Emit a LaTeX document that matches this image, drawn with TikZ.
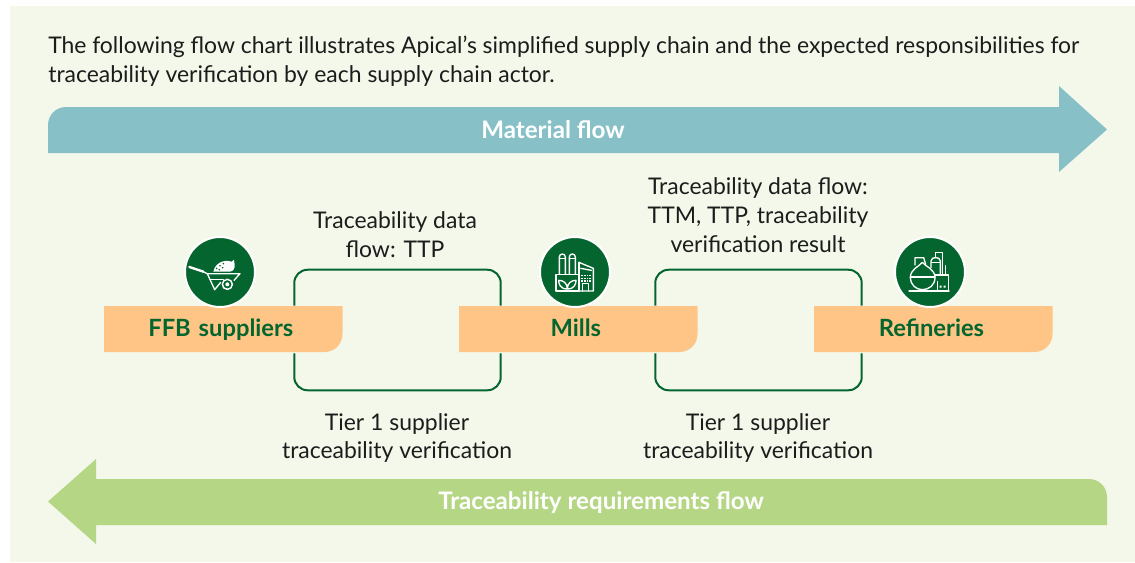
\documentclass[tikz,border=0pt]{standalone}
\usepackage{fontspec}
\usetikzlibrary{calc}
\setmainfont{Lato}
\definecolor{panel}{HTML}{F4F8EA}
\definecolor{tealflow}{HTML}{88C0C8}
\definecolor{greenflow}{HTML}{B5D785}
\definecolor{barorange}{HTML}{FFC586}
\definecolor{darkgreen}{HTML}{04652F}
\definecolor{bodytext}{HTML}{1C1C1C}
\tikzset{
  bodylabel/.style={font=\fontsize{17.2}{21.7}\selectfont, text=bodytext, align=center, inner sep=0pt},
  flowlabel/.style={font=\fontsize{18.1}{20}\selectfont\bfseries, text=white, inner sep=0pt},
  actor/.style={font=\fontsize{17.8}{20}\selectfont\bfseries, text=darkgreen, inner sep=0pt, minimum width=179.25pt, minimum height=34.5pt},
  actortext/.style={actor, text width=179.25pt, align=center, text height=13pt, text depth=3.6pt},
  linkline/.style={draw=darkgreen, line width=1.5pt, rounded corners=10pt},
  iconbadge/.style={circle, fill=darkgreen, draw=white, line width=1.5pt, minimum size=52.5pt, inner sep=0pt},
  iconline/.style={draw=white, line width=1pt, line join=round, line cap=round},
}
\newcommand{\orangebar}[1]{%
  \fill[barorange] (#1,306) -- ({#1+238.5},306) -- ({#1+238.5},334)
    .. controls ({#1+238.5},344) and ({#1+230.5},352) .. ({#1+220.5},352) -- (#1,352) -- cycle;}
\begin{document}
\begin{tikzpicture}[x=.75pt,y=-.75pt]
\useasboundingbox (0,0) rectangle (1135,562);
\fill[white] (0,0) rectangle (1135,562);
\fill[panel] (10,6) rectangle (1135,562);

% intro
\node[font=\fontsize{17.2}{21.7}\selectfont, text=bodytext, anchor=north west, inner sep=0pt, text width=773.25pt, align=justify] (intro) at (48,35.5)
  {\hbox to 773.25pt{The following flow chart illustrates Apical’s simplified supply chain and the expected responsibilities for}\par
   traceability verification by each supply chain actor.};

% big arrows
\fill[tealflow] (48,153) -- (48,125) .. controls (48,115) and (56,107) .. (66,107)
  -- (1059,107) -- (1059,86) -- (1107,129.5) -- (1059,172) -- (1059,153) -- cycle;
\node[flowlabel] (material) at (553,129.5) {Material flow};
\fill[greenflow] (1107,525) -- (1107,497) .. controls (1107,487) and (1099,479) .. (1089,479)
  -- (96,479) -- (96,459) -- (48,501.5) -- (96,544) -- (96,525) -- cycle;
\node[flowlabel] (requirements) at (601,502.5) {Traceability requirements flow};

% actors
\node[actor] (ffb) at (223.5,329) {};
\node[actor] (mills) at (578.5,329) {};
\node[actor] (ref) at (933.5,329) {};

% links
\draw[linkline] ([xshift=-36.75pt]ffb.north east) -- ++(0,-36) -| ([xshift=31.5pt]mills.north west);
\draw[linkline] ([xshift=-36.75pt,yshift=-.75pt]ffb.south east) -- ++(0,37) -| ([xshift=31.5pt,yshift=-.75pt]mills.south west);
\draw[linkline] ([xshift=-32.25pt]mills.north east) -- ++(0,-36) -| ([xshift=36pt]ref.north west);
\draw[linkline] ([xshift=-32.25pt,yshift=-.75pt]mills.south east) -- ++(0,37) -| ([xshift=36pt,yshift=-.75pt]ref.south west);

\orangebar{104}
\orangebar{459}
\orangebar{814}
\node[actortext] at ([yshift=-1.1pt]ffb) {\hspace*{-4pt}FFB suppliers};
\node[actortext] at ([yshift=-1.1pt]mills) {\hspace*{-4pt}Mills};
\node[actortext] at ([yshift=-1.1pt]ref) {\hspace*{-3pt}Refineries};

% labels
\node[bodylabel] (l1) at (395,234.5) {Traceability data\\flow: TTP};
\node[bodylabel] (l2) at (758,215) {Traceability data flow:\\TTM, TTP, traceability\\verification result};
\node[bodylabel] (l3) at (397,438) {Tier 1 supplier\\traceability verification};
\node[bodylabel] (l4) at (758,438) {Tier 1 supplier\\traceability verification};

% badges
\node[iconbadge] (b1) at (220,272) {};
\node[iconbadge] (b2) at (575,272) {};
\node[iconbadge] (b3) at (930,272) {};

% wheelbarrow
\begin{scope}[shift={(170,225)},x=.25pt,y=-.25pt]
  \draw[iconline,line width=1.8pt] (58,126) -- (100,140);
  \draw[iconline] (100,140) -- (112,146) -- (210,146) -- (192,166);
  \draw[iconline] (112,146) -- (134,194) -- (152,172);
  \draw[iconline] (120,164) -- (160,164);
  \draw[iconline,fill=darkgreen,line width=1.1pt] (172,178) circle (15);
  \fill[white] (172,178) circle (6);
  \fill[white] (130,140) .. controls (135,115) and (160,102) .. (185,110) -- (192,104) -- (194,120) .. controls (195,130) and (190,138) .. (180,140) -- cycle;
  \foreach \p in {(140,130),(150,122),(160,116),(148,134),(158,128)}
    \fill[darkgreen] \p circle (2.6);
\end{scope}

% mill
\begin{scope}[shift={(530,225)},x=.25pt,y=-.25pt]
  \draw[iconline] (88,148) -- (88,96) .. controls (88,84) and (106,84) .. (106,96) -- (106,148);
  \draw[iconline] (118,148) -- (118,96) .. controls (118,84) and (136,84) .. (136,96) -- (136,148);
  \draw[iconline] (88,100) -- (106,100) (118,100) -- (136,100);
  \draw[iconline] (78,148) rectangle (147,198);
  \draw[iconline] (147,112) -- (190,130) -- (190,198) -- (147,198);
  \draw[iconline] (147,112) -- (147,148);
  \draw[iconline] (152,130) -- (184,136);
  \foreach \xx in {154,162,170,178} \foreach \yy in {150,158,166}
    \fill[white] (\xx,\yy) rectangle ++(5,4);
  \draw[iconline] (158,198) -- (158,176) -- (176,176) -- (176,198);
  \draw[iconline] (112,192) .. controls (90,192) and (86,176) .. (86,166) .. controls (100,166) and (112,174) .. (112,192)
     .. controls (112,174) and (124,166) .. (138,166) .. controls (138,176) and (134,192) .. (112,192);
\end{scope}

% refinery
\begin{scope}[shift={(885,225)},x=.25pt,y=-.25pt]
  \draw[iconline] (90,120) -- (90,98) -- (116,98) -- (122,118);
  \draw[iconline] (138,128) -- (138,108) .. controls (138,94) and (166,94) .. (166,108) -- (166,150);
  \draw[iconline] (140,112) -- (164,112);
  \draw[iconline] (152,98) -- (152,82) -- (172,82) -- (172,150);
  \draw[iconline] (182,122) -- (182,148);
  \draw[iconline] (112,112) .. controls (122,125) and (150,132) .. (150,158) .. controls (150,180) and (132,194) .. (112,194)
     .. controls (92,194) and (76,178) .. (76,158) .. controls (76,132) and (102,125) .. (112,112) -- cycle;
  \draw[iconline] (76,156) -- (150,156);
  \draw[iconline] (150,150) -- (190,150) -- (190,198);
  \draw[iconline] (72,198) -- (192,198);
  \draw[iconline] (158,170) -- (158,198);
  \fill[white] (164,182) rectangle ++(6,6) (176,182) rectangle ++(6,6);
\end{scope}
\end{tikzpicture}
\end{document}
